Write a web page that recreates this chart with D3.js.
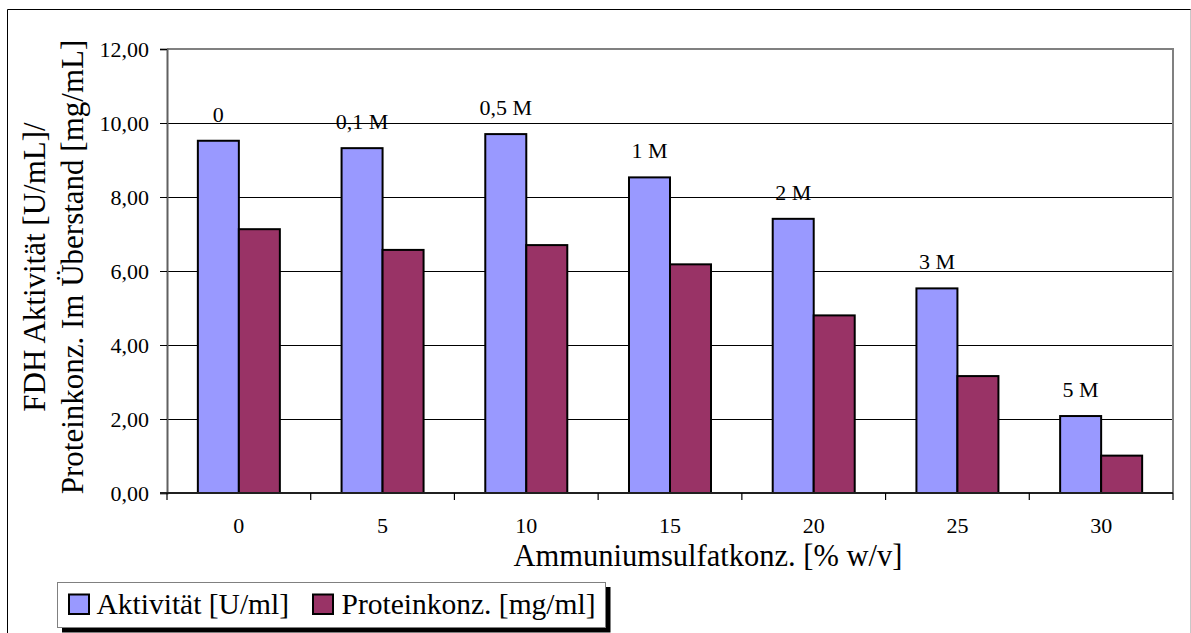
<!DOCTYPE html>
<html>
<head>
<meta charset="utf-8">
<script src="https://cdn.jsdelivr.net/npm/d3@7"></script>
<style>
  html, body { margin: 0; padding: 0; background: #fff; }
  svg { display: block; }
  svg text { font-family: "Liberation Serif", "Times New Roman", Times, "DejaVu Serif", serif !important; fill: #000; }
</style>
</head>
<body>
<svg id="chart" width="1191" height="633"></svg>
<script>
const categories = ["0", "5", "10", "15", "20", "25", "30"];
const aktivitaet = [9.52, 9.32, 9.70, 8.53, 7.41, 5.53, 2.08];
const protein = [7.13, 6.57, 6.70, 6.18, 4.80, 3.16, 1.01];
const barLabels = ["0", "0,1 M", "0,5 M", "1 M", "2 M", "3 M", "5 M"];
const yTicks = [0, 2, 4, 6, 8, 10, 12];
const seriesNames = ["Aktivität [U/ml]", "Proteinkonz. [mg/ml]"];
const seriesColors = ["#9999FF", "#993366"];
const xTitle = "Ammuniumsulfatkonz. [% w/v]";
const yTitle1 = "FDH Aktivität [U/mL]/";
const yTitle2 = "Proteinkonz. Im Überstand [mg/mL]";

const FONT = '"Liberation Serif", "Times New Roman", Times, "DejaVu Serif", serif';
const svg = d3.select("#chart").attr("font-family", FONT);
const plot = { left: 167, right: 1173, top: 49, bottom: 493 };

// outer frame
svg.append("line").attr("x1", 7.5).attr("x2", 1191).attr("y1", 9.5).attr("y2", 9.5).attr("stroke", "#000");
svg.append("line").attr("x1", 7.5).attr("x2", 7.5).attr("y1", 9.5).attr("y2", 633).attr("stroke", "#000");
svg.append("line").attr("x1", 1190.5).attr("x2", 1190.5).attr("y1", 9.5).attr("y2", 633).attr("stroke", "#c8c8c8");

const x0 = d3.scaleBand().domain(categories).range([plot.left, plot.right]).paddingInner(0).paddingOuter(0);
const x1 = d3.scaleBand().domain([0, 1]).range([0, x0.bandwidth()]).paddingInner(0).paddingOuter(0.7525);
const y = d3.scaleLinear().domain([0, 12]).range([plot.bottom, plot.top]);
const fmt = v => d3.format(".2f")(v).replace(".", ",");

// gridlines
svg.append("g").selectAll("line").data(yTicks.filter(t => t > 0 && t < 12)).join("line")
  .attr("x1", plot.left).attr("x2", plot.right)
  .attr("y1", d => Math.round(y(d)) + 0.5).attr("y2", d => Math.round(y(d)) + 0.5)
  .attr("stroke", "#000").attr("stroke-width", 1);

// plot border (top/right gray)
svg.append("path")
  .attr("d", `M${plot.left},${plot.top}H${plot.right}V${plot.bottom}`)
  .attr("fill", "none").attr("stroke", "#808080").attr("stroke-width", 2);

// bars
const groups = svg.append("g").selectAll("g").data(categories).join("g")
  .attr("transform", d => `translate(${x0(d)},0)`);
const seriesData = [aktivitaet, protein];
groups.selectAll("rect").data((d, i) => [0, 1].map(s => ({ s, v: seriesData[s][i] }))).join("rect")
  .attr("x", d => x1(d.s))
  .attr("width", x1.bandwidth())
  .attr("y", d => y(d.v))
  .attr("height", d => y(0) - y(d.v))
  .attr("fill", d => seriesColors[d.s])
  .attr("stroke", "#000").attr("stroke-width", 2);

// data labels above blue bars
svg.append("g").selectAll("text").data(categories).join("text")
  .attr("x", (d) => x0(d) + x1(0) + x1.bandwidth() / 2)
  .attr("y", (d, i) => y(aktivitaet[i]) - 19)
  .attr("text-anchor", "middle")
  .attr("font-size", 22)
  .text((d, i) => barLabels[i]);

// y axis
const yAxis = d3.axisLeft(y).tickValues(yTicks).tickFormat(fmt).tickSize(7).tickPadding(11);
const gy = svg.append("g").attr("transform", `translate(${plot.left},0)`).call(yAxis);
gy.attr("font-family", FONT);
gy.select(".domain").attr("stroke", "#606060").attr("stroke-width", 2);
gy.selectAll(".tick line").attr("stroke", "#000");
gy.selectAll(".tick text").attr("font-size", 22).attr("fill", "#000");

// x axis
svg.append("line").attr("x1", plot.left - 7).attr("x2", plot.right).attr("y1", plot.bottom).attr("y2", plot.bottom)
  .attr("stroke", "#202020").attr("stroke-width", 2);
const boundaries = categories.map(c => x0(c)).concat([plot.right]);
svg.append("g").selectAll("line").data(boundaries).join("line")
  .attr("x1", d => d).attr("x2", d => d).attr("y1", plot.bottom).attr("y2", plot.bottom + 7)
  .attr("stroke", "#000").attr("stroke-width", 1.2);
svg.append("g").selectAll("text").data(categories).join("text")
  .attr("x", d => x0(d) + x0.bandwidth() / 2)
  .attr("y", 533)
  .attr("text-anchor", "middle")
  .attr("font-size", 22)
  .text(d => d);

// axis titles
svg.append("text").attr("x", 708).attr("y", 566).attr("text-anchor", "middle").attr("font-size", 30.5).text(xTitle);
svg.append("text").attr("transform", "translate(45,267) rotate(-90)").attr("text-anchor", "middle").attr("font-size", 31).text(yTitle1);
svg.append("text").attr("transform", "translate(83,267) rotate(-90)").attr("text-anchor", "middle").attr("font-size", 31).text(yTitle2);

// legend
const lg = svg.append("g");
lg.append("rect").attr("x", 62).attr("y", 587).attr("width", 548.5).attr("height", 45.5).attr("fill", "#000");
lg.append("rect").attr("x", 57.5).attr("y", 582.5).attr("width", 548).attr("height", 45).attr("fill", "#fff").attr("stroke", "#808080").attr("stroke-width", 1);
const legendItems = [{ sx: 69, tx: 96.5 }, { sx: 313, tx: 341.5 }];
legendItems.forEach((it, i) => {
  lg.append("rect").attr("x", it.sx).attr("y", 594.5).attr("width", 20).attr("height", 19.5)
    .attr("fill", seriesColors[i]).attr("stroke", "#000").attr("stroke-width", 2);
  lg.append("text").attr("x", it.tx).attr("y", 614).attr("font-size", 29.5).text(seriesNames[i]);
});
</script>
</body>
</html>
